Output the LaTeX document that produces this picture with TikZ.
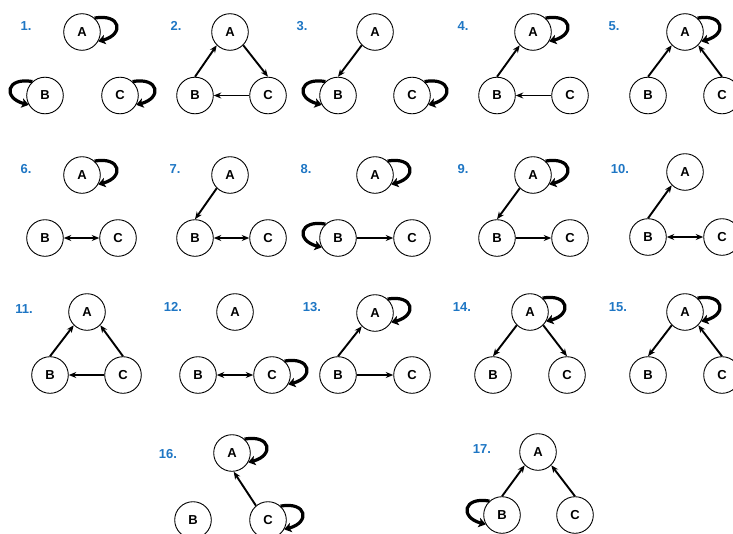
\documentclass[tikz,border=0pt]{standalone}
\usepackage{fontspec}
\setmainfont{Liberation Sans}
\usepackage{xcolor}
\usepackage{tikz}
\usetikzlibrary{arrows.meta}
\definecolor{numblue}{RGB}{30,118,196}
\tikzset{
    vtx/.style={circle, draw=black, line width=0.9pt, fill=white,
                minimum size=36.6pt, inner sep=0pt,
                font=\fontsize{13}{14}\selectfont\bfseries},
    num/.style={text=numblue, inner sep=0pt,
                font=\fontsize{13}{14}\selectfont\bfseries},
    arr/.style={-{Stealth[length=7.5pt,width=6pt]}, line width=1.9pt},
    darr/.style={{Stealth[length=7.5pt,width=6pt]}-{Stealth[length=7.5pt,width=6pt]},
                 line width=1.9pt},
    selfarr/.style={-{Stealth[length=7pt,width=9.5pt,inset=1.5pt]}, line width=3.2pt}
}

\begin{document}
\begin{tikzpicture}[x=1pt, y=1pt]
\useasboundingbox (0,0) rectangle (733,-533);

% ── Row 1: motifs 1-5 ─────────────────────────────────────────────────
\node[num] at (26, -26)  (n1) {1.};
\node[vtx] at (82, -32)  (a1) {A};
\node[vtx] at (45, -95.5)(b1) {B};
\node[vtx] at (120,-95.5)(c1) {C};

\node[num] at (176,-26)  (n2) {2.};
\node[vtx] at (230,-32)  (a2) {A};
\node[vtx] at (195,-95.5)(b2) {B};
\node[vtx] at (268,-95.5)(c2) {C};

\node[num] at (302,-26)  (n3) {3.};
\node[vtx] at (375,-32)  (a3) {A};
\node[vtx] at (338,-95.5)(b3) {B};
\node[vtx] at (412,-95.5)(c3) {C};

\node[num] at (463,-26)  (n4) {4.};
\node[vtx] at (533,-32)  (a4) {A};
\node[vtx] at (497,-95.5)(b4) {B};
\node[vtx] at (570,-95.5)(c4) {C};

\node[num] at (614,-26)  (n5) {5.};
\node[vtx] at (685,-32)  (a5) {A};
\node[vtx] at (648,-95.5)(b5) {B};
\node[vtx] at (722,-95.5)(c5) {C};

% ── Row 2: motifs 6-10 ────────────────────────────────────────────────
\node[num] at (26, -169) (n6) {6.};
\node[vtx] at (82, -175) (a6) {A};
\node[vtx] at (45, -238) (b6) {B};
\node[vtx] at (118,-238) (c6) {C};

\node[num] at (175,-169) (n7) {7.};
\node[vtx] at (230,-175) (a7) {A};
\node[vtx] at (195,-238) (b7) {B};
\node[vtx] at (268,-238) (c7) {C};

\node[num] at (306,-169) (n8) {8.};
\node[vtx] at (375,-175) (a8) {A};
\node[vtx] at (338,-238) (b8) {B};
\node[vtx] at (412,-238) (c8) {C};

\node[num] at (463,-169) (n9) {9.};
\node[vtx] at (533,-175) (a9) {A};
\node[vtx] at (497,-238) (b9) {B};
\node[vtx] at (570,-238) (c9) {C};

\node[num] at (620,-169) (n10) {10.};
\node[vtx] at (685,-172) (a10) {A};
\node[vtx] at (648,-237) (b10) {B};
\node[vtx] at (722,-237) (c10) {C};

% ── Row 3: motifs 11-15 ───────────────────────────────────────────────
\node[num] at (24, -309) (n11) {11.};
\node[vtx] at (87, -312) (a11) {A};
\node[vtx] at (50, -375) (b11) {B};
\node[vtx] at (123,-375) (c11) {C};

\node[num] at (173,-307) (n12) {12.};
\node[vtx] at (235,-312) (a12) {A};
\node[vtx] at (198,-375) (b12) {B};
\node[vtx] at (272,-375) (c12) {C};

\node[num] at (312,-307) (n13) {13.};
\node[vtx] at (375,-313) (a13) {A};
\node[vtx] at (338,-375) (b13) {B};
\node[vtx] at (412,-375) (c13) {C};

\node[num] at (462,-307) (n14) {14.};
\node[vtx] at (530,-312) (a14) {A};
\node[vtx] at (493,-375) (b14) {B};
\node[vtx] at (567,-375) (c14) {C};

\node[num] at (618,-307) (n15) {15.};
\node[vtx] at (685,-312) (a15) {A};
\node[vtx] at (648,-375) (b15) {B};
\node[vtx] at (722,-375) (c15) {C};

% ── Row 4: motifs 16-17 ───────────────────────────────────────────────
\node[num] at (168,-454) (n16) {16.};
\node[vtx] at (232,-453) (a16) {A};
\node[vtx] at (193,-520) (b16) {B};
\node[vtx] at (268,-520) (c16) {C};

\node[num] at (482,-449) (n17) {17.};
\node[vtx] at (538,-452) (a17) {A};
\node[vtx] at (502,-515) (b17) {B};
\node[vtx] at (575,-515) (c17) {C};

% ── Self loops (right side) ───────────────────────────────────────────
\draw[selfarr] (a1.48)  to[out=10,in=15,distance=27pt] (a1.-30);
\draw[selfarr] (c1.48)  to[out=10,in=15,distance=27pt] (c1.-30);
\draw[selfarr] (c3.48)  to[out=10,in=15,distance=27pt] (c3.-30);
\draw[selfarr] (a4.48)  to[out=10,in=15,distance=27pt] (a4.-30);
\draw[selfarr] (a5.48)  to[out=10,in=15,distance=27pt] (a5.-30);
\draw[selfarr] (a6.48)  to[out=10,in=15,distance=27pt] (a6.-30);
\draw[selfarr] (a8.48)  to[out=10,in=15,distance=27pt] (a8.-30);
\draw[selfarr] (a9.48)  to[out=10,in=15,distance=27pt] (a9.-30);
\draw[selfarr] (c12.48) to[out=10,in=15,distance=27pt] (c12.-30);
\draw[selfarr] (a13.48) to[out=10,in=15,distance=27pt] (a13.-30);
\draw[selfarr] (a14.48) to[out=10,in=15,distance=27pt] (a14.-30);
\draw[selfarr] (a15.48) to[out=10,in=15,distance=27pt] (a15.-30);
\draw[selfarr] (a16.48) to[out=10,in=15,distance=27pt] (a16.-30);
\draw[selfarr] (c16.48) to[out=10,in=15,distance=27pt] (c16.-30);

% ── Self loops (left side) ────────────────────────────────────────────
\draw[selfarr] (b1.132)  to[out=170,in=165,distance=27pt] (b1.-150);
\draw[selfarr] (b3.132)  to[out=170,in=165,distance=27pt] (b3.-150);
\draw[selfarr] (b8.132)  to[out=170,in=165,distance=27pt] (b8.-150);
\draw[selfarr] (b17.132) to[out=170,in=165,distance=27pt] (b17.-150);

% ── Edges ─────────────────────────────────────────────────────────────
\draw[arr] (b2.north) -- (a2.225);
\draw[arr] (a2.-45) -- (c2.north);
\draw[arr] (c2) -- (b2);

\draw[arr] (a3.225) -- (b3.north);

\draw[arr] (b4.north) -- (a4.225);
\draw[arr] (c4) -- (b4);

\draw[arr] (b5.north) -- (a5.225);
\draw[arr] (c5.north) -- (a5.-45);

\draw[darr] (b6) -- (c6);

\draw[arr] (a7.225) -- (b7.north);
\draw[darr] (b7) -- (c7);

\draw[arr] (b8) -- (c8);

\draw[arr] (a9.225) -- (b9.north);
\draw[arr] (b9) -- (c9);

\draw[arr] (b10.north) -- (a10.225);
\draw[darr] (b10) -- (c10);

\draw[arr] (b11.north) -- (a11.225);
\draw[arr] (c11.north) -- (a11.-45);
\draw[arr] (c11) -- (b11);

\draw[darr] (b12) -- (c12);

\draw[arr] (b13.north) -- (a13.225);
\draw[arr] (b13) -- (c13);

\draw[arr] (a14.225) -- (b14.north);
\draw[arr] (a14.-45) -- (c14.north);

\draw[arr] (a15.225) -- (b15.north);
\draw[arr] (c15.north) -- (a15.-45);

\draw[arr] (c16.130) -- (a16.-85);

\draw[arr] (b17.north) -- (a17.225);
\draw[arr] (c17.north) -- (a17.-45);
\end{tikzpicture}
\end{document}
